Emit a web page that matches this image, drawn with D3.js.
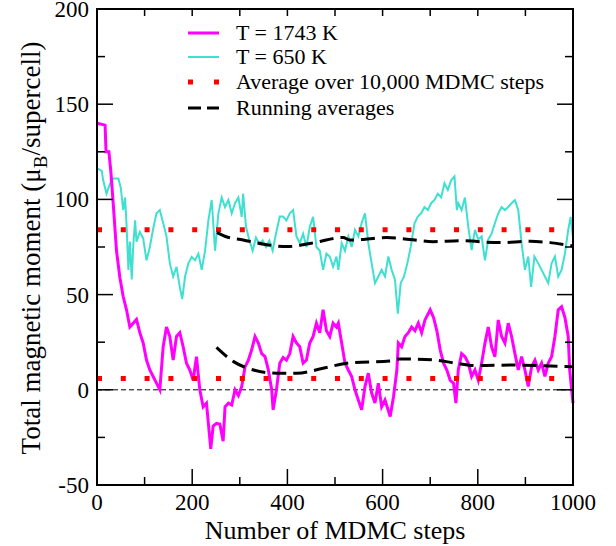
<!DOCTYPE html>
<html><head><meta charset="utf-8">
<script src="https://cdn.jsdelivr.net/npm/d3@7"></script>
<style>body{margin:0;background:#fff}svg{display:block}text{font-family:"Liberation Serif","Times New Roman",serif;fill:#000}</style>
</head><body>
<svg id="c" width="616" height="546"></svg>
<script>
const hotSteps = [0,17,19,25,29,34,41,48,55,62,69,76,83,90,97,104,111,118,125,132,139,146,153,160,167,174,181,188,195,202,209,216,223,230,239,244,251,258,265,269,276,283,290,297,304,311,318,325,332,339,346,353,360,367,370,377,384,391,398,405,412,419,426,433,440,447,454,461,468,475,482,489,496,503,507,514,521,528,535,542,549,556,563,570,577,584,591,598,605,616,623,630,633,640,647,654,661,668,675,682,689,700,707,714,721,728,735,742,749,754,759,766,773,780,787,794,801,808,815,822,829,836,843,850,857,864,871,878,885,892,899,906,913,920,927,934,941,948,955,962,969,976,983,990,993,1000];
const hotValues = [140,139,125,125,115,98,73,59,49,42,33,35,37,30,24.6,15.6,10.4,7,3.5,0,22.6,33,28,15.6,28,30,22.6,14,10.4,5,17.4,0,-8.9,-7,-31,-19,-17.6,-18,-27,-8.9,-7,-8,0,-3,1.7,12,15.6,21,28,24.6,19,17.4,10.4,0,-10.5,0,14,17,15.6,19,28,24.6,22.6,14,15.6,24.6,28,35,30,42,31,28,35,33,35,24.6,14,10.4,7,0,-5.4,-10.5,1.7,8.7,-1.7,-7,3.5,-8.9,-5.4,-14,-3.5,10.4,24.6,22.6,28,30,33,31,35,30,36.7,42,38,31,21,14,10.4,5,3.5,-7,10.4,19,17.4,14,7,10.4,5,14,24.4,33,22.6,17.4,36.7,28,24.6,35,28,19,10.4,17.4,10.4,1.7,12,15.6,10.4,14,7,14,17.4,28,42,43.6,38,28,10.4,-7];

const coldSteps = [0,3,10,13,20,27,34,45,50,55,59,62,66,69,73,76,80,83,90,97,104,111,118,125,132,139,146,153,160,167,174,179,185,192,199,206,213,220,227,234,241,248,255,262,269,276,283,290,297,304,307,313,320,327,334,341,348,355,362,369,376,384,391,398,405,412,419,426,433,440,447,454,461,468,475,482,489,496,503,507,514,521,528,535,542,549,556,563,570,577,584,591,598,605,612,619,626,632,638,645,652,659,667,674,681,688,695,702,709,716,723,730,737,744,751,756,759,766,773,780,787,794,801,808,815,822,829,836,843,850,857,864,871,878,885,892,899,906,912,919,927,934,941,948,955,962,969,976,983,990,995,1000];
const coldValues = [116,116,115,110,103,108,111,111,106,94.4,101,87,63,77.8,58,75,89,77.8,82.9,79.5,68,75,84.6,92.7,94.4,87.6,80.6,66.4,59.5,64.6,54,47.6,59.5,66.4,69.8,68,71.5,63,73,89,99.7,73,92.7,101,96,99.7,92.7,98,101,90.8,103,85.6,78.7,73,80,76.6,78.4,75,78.4,73,82,91,91,89,92.7,94.4,80.6,77,82,75,85.6,90.8,75,73,63,71.5,70,64.6,70,63,77,73,80.6,75,84,80.6,87.6,92.7,77,66.4,56,59.5,63,59.5,70,63,57.8,40,56,59.5,66.4,75,87.4,91,92.7,96,94.4,98,99.7,103,101,108.5,105,110,112,94.4,98,94.4,101,85.6,73.4,84,79,80.6,68,79,82,87.6,92.7,96,94.4,96,98,99.7,94.4,77,63,70,54,70,66.4,63,59.5,56,66.4,70,59.5,63,71.5,84,90.8,80];

const hotAverage = 6;
const coldAverage = 84;

const runColdSteps = [252,270,307,350,400,450,517,531,560,608,657,706,762,846,910,952,1000];
const runColdValues = [82.5,80.5,78.7,76.5,75.2,77,80,78.7,79,80,79,77.8,78.3,77.3,78,77.3,75.5];
const runHotSteps = [251,287,329,378,420,475,531,615,636,706,756,798,868,1000];
const runHotValues = [22.3,14.8,10.4,8.7,8.7,11.3,14.2,15.1,16.2,15.7,13.9,12.7,13,12.1];

const xTicks = [0,200,400,600,800,1000];
const xMinor = [100,300,500,700,900];
const yTicks = [-50,0,50,100,150,200];
const yMinor = [-25,25,75,125,175];

const legendLabels = ["T = 1743 K","T = 650 K","Average over 10,000 MDMC steps","Running averages"];

const svg = d3.select("#c");
const L=97, R=573, T=9, B=485;
const x = d3.scaleLinear().domain([0,1000]).range([L,R]);
const y = d3.scaleLinear().domain([-50,200]).range([B,T]);

const zip = (a,b)=>a.map((s,i)=>[s,b[i]]);
const line = d3.line().x(d=>x(d[0])).y(d=>y(d[1]));
const smooth = d3.line().x(d=>x(d[0])).y(d=>y(d[1])).curve(d3.curveMonotoneX);

const g = svg.append("g");
g.append("line").attr("x1",x(0)).attr("x2",x(1000)).attr("y1",y(0)).attr("y2",y(0))
 .attr("stroke","#000").attr("stroke-width",1).attr("stroke-dasharray","5,3");

g.append("path").datum(zip(coldSteps,coldValues)).attr("d",line)
 .attr("fill","none").attr("stroke","#40e0d0").attr("stroke-width",2);
g.append("path").datum(zip(hotSteps,hotValues)).attr("d",line)
 .attr("fill","none").attr("stroke","#ff00ff").attr("stroke-width",3);

[hotAverage,coldAverage].forEach(v=>{
  g.append("line").attr("x1",x(0)).attr("x2",x(1000)).attr("y1",y(v)).attr("y2",y(v))
   .attr("stroke","#ff0000").attr("stroke-width",5).attr("stroke-dasharray","5,18.8");
});
[[runColdSteps,runColdValues],[runHotSteps,runHotValues]].forEach(([s,v])=>{
  g.append("path").datum(zip(s,v)).attr("d",smooth)
   .attr("fill","none").attr("stroke","#000").attr("stroke-width",3).attr("stroke-dasharray","14,7");
});

svg.append("rect").attr("x",L).attr("y",T).attr("width",R-L).attr("height",B-T)
 .attr("fill","none").attr("stroke","#000").attr("stroke-width",2);

const tk = svg.append("g").attr("stroke","#000").attr("stroke-width",1.5);
xTicks.forEach(t=>{
  tk.append("line").attr("x1",x(t)).attr("x2",x(t)).attr("y1",B).attr("y2",B-16);
  tk.append("line").attr("x1",x(t)).attr("x2",x(t)).attr("y1",T).attr("y2",T+7);
});
xMinor.forEach(t=>{
  tk.append("line").attr("x1",x(t)).attr("x2",x(t)).attr("y1",B).attr("y2",B-8);
  tk.append("line").attr("x1",x(t)).attr("x2",x(t)).attr("y1",T).attr("y2",T+7);
});
yTicks.forEach(t=>{
  tk.append("line").attr("y1",y(t)).attr("y2",y(t)).attr("x1",L).attr("x2",L+16);
  tk.append("line").attr("y1",y(t)).attr("y2",y(t)).attr("x1",R).attr("x2",R-16);
});
yMinor.forEach(t=>{
  tk.append("line").attr("y1",y(t)).attr("y2",y(t)).attr("x1",L).attr("x2",L+8);
  tk.append("line").attr("y1",y(t)).attr("y2",y(t)).attr("x1",R).attr("x2",R-8);
});

xTicks.forEach(t=>{
  svg.append("text").attr("x",x(t)).attr("y",510).attr("text-anchor","middle")
   .style("font-size","23px").text(t);
});
yTicks.forEach(t=>{
  svg.append("text").attr("x",89).attr("y",y(t)+8).attr("text-anchor","end")
   .style("font-size","23px").text(t);
});

svg.append("text").attr("x",(L+R)/2).attr("y",539).attr("text-anchor","middle")
 .style("font-size","26px").text("Number of MDMC steps");
const yt = svg.append("text").attr("transform","translate(40,248) rotate(-90)")
 .attr("text-anchor","middle").style("font-size","27px");
yt.append("tspan").text("Total magnetic moment (μ");
yt.append("tspan").attr("dy",7).style("font-size","19px").text("B");
yt.append("tspan").attr("dy",-7).text("/supercell)");

const ly = [33,57,82,108];
const lg = svg.append("g");
lg.append("line").attr("x1",188).attr("x2",219).attr("y1",ly[0]).attr("y2",ly[0]).attr("stroke","#ff00ff").attr("stroke-width",3);
lg.append("line").attr("x1",188).attr("x2",219).attr("y1",ly[1]).attr("y2",ly[1]).attr("stroke","#40e0d0").attr("stroke-width",2);
lg.append("line").attr("x1",188).attr("x2",219).attr("y1",ly[2]).attr("y2",ly[2]).attr("stroke","#ff0000").attr("stroke-width",5).attr("stroke-dasharray","5,21");
lg.append("line").attr("x1",188).attr("x2",219).attr("y1",ly[3]).attr("y2",ly[3]).attr("stroke","#000").attr("stroke-width",3).attr("stroke-dasharray","13,6");
legendLabels.forEach((t,i)=>{
  lg.append("text").attr("x",236).attr("y",ly[i]+7).style("font-size","22px").text(t);
});
</script>
</body></html>
